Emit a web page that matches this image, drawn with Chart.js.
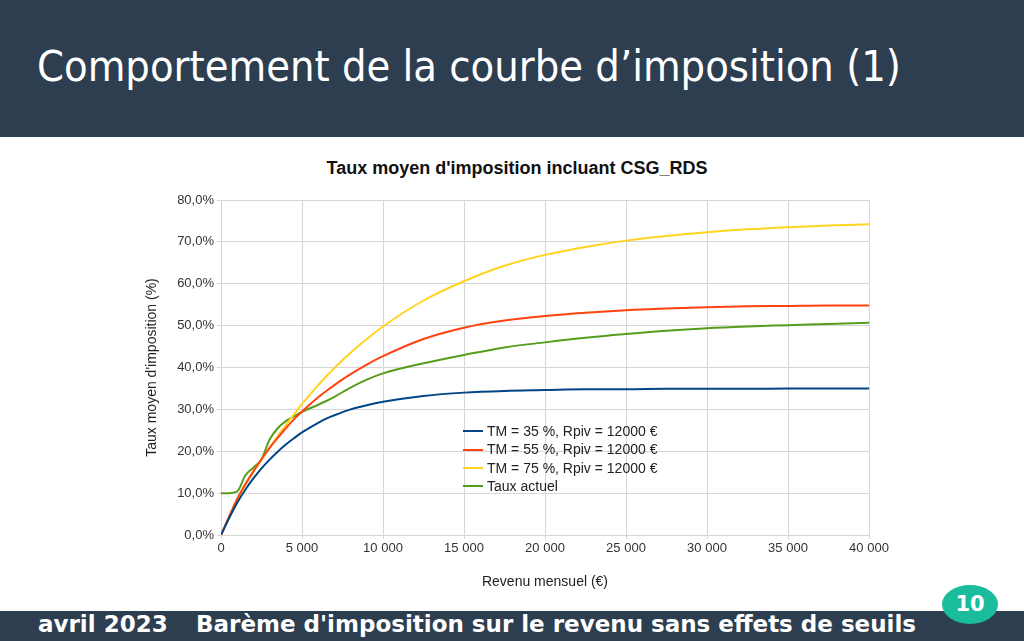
<!DOCTYPE html>
<html lang="fr">
<head>
<meta charset="utf-8">
<script src="https://cdn.jsdelivr.net/npm/chart.js@4/dist/chart.umd.min.js"></script>
<style>
  html, body { margin: 0; padding: 0; }
  body { width: 1024px; height: 641px; position: relative; overflow: hidden; background: #fff; font-family: "Liberation Sans", Arial, sans-serif; }
  .header { position: absolute; left: 0; top: 0; width: 1024px; height: 137px; background: #2d3e50; }
  .header h1 { position: absolute; left: 37px; top: 38px; margin: 0; color: #fff; font-family: "DejaVu Sans Condensed", "DejaVu Sans", sans-serif; font-weight: 200; font-size: 43px; line-height: 56px; white-space: nowrap; }
  .footer { position: absolute; left: 0; top: 611px; width: 1024px; height: 30px; background: #2d3e50; }
  .footer span { position: absolute; top: -2px; color: #fff; font-family: "DejaVu Sans", sans-serif; font-weight: bold; font-size: 23px; line-height: 30px; white-space: nowrap; }
  .badge { position: absolute; left: 942px; top: 585px; width: 56px; height: 39px; border-radius: 50%; background: #1abc9c; color: #fff; font-family: "DejaVu Sans", sans-serif; font-weight: bold; font-size: 21px; line-height: 39px; text-align: center; }
  #titre { position: absolute; left: 317px; width: 400px; top: 157px; text-align: center; font-weight: bold; font-size: 18px; line-height: 22px; color: #111; white-space: nowrap; }
  #wrap { position: absolute; left: 0; top: 140px; width: 1024px; height: 465px; }
  #legend { position: absolute; left: 463px; top: 422px; font-size: 14px; color: #222; }
  #legend div { height: 18.3px; line-height: 18px; white-space: nowrap; }
  #legend i { display: inline-block; width: 20px; height: 2px; vertical-align: middle; margin-right: 4px; position: relative; top: -1px; }
</style>
</head>
<body>
<div class="header"><h1>Comportement de la courbe d’imposition (1)</h1></div>
<div id="titre">Taux moyen d'imposition incluant CSG_RDS</div>
<div id="wrap"><canvas id="chart" width="1024" height="465"></canvas></div>
<div id="legend"></div>
<div class="footer">
  <span style="left:38px">avril 2023</span>
  <span style="left:196px">Barème d'imposition sur le revenu sans effets de seuils</span>
</div>
<div class="badge">10</div>
<script>
// revenu mensuel (€)
const revenus = [0, 500, 1000, 1500, 2000, 2500, 3000, 3500, 4000, 4500, 5000, 6000, 6500, 7000, 8000, 9000, 10000,
  12500, 15000, 17500, 20000, 22500, 25000, 27500, 30000, 32500, 35000, 37500, 40000];

// taux moyen (%)
const tm35 = [0, 4.0, 7.7, 10.8, 13.5, 15.9, 18.0, 19.9, 21.6, 23.1, 24.5, 26.8, 27.8, 28.6, 30.0, 31.0, 31.8,
  33.2, 34.0, 34.4, 34.6, 34.8, 34.8, 34.9, 34.9, 34.9, 35.0, 35.0, 35.0];
const tm55 = [0, 4.4, 8.6, 12.1, 15.2, 18.1, 20.8, 23.2, 25.5, 27.6, 29.5, 32.9, 34.4, 35.8, 38.4, 40.7, 42.7,
  46.8, 49.5, 51.2, 52.3, 53.1, 53.7, 54.1, 54.4, 54.6, 54.7, 54.8, 54.8];
const tm75 = [0, 4.3, 8.4, 12.0, 15.1, 18.0, 20.8, 23.6, 26.2, 28.8, 31.3, 35.8, 37.9, 39.9, 43.5, 46.8, 49.8,
  56.0, 60.6, 64.3, 66.9, 68.8, 70.3, 71.4, 72.3, 73.0, 73.5, 73.9, 74.2];
const actuel = [10, 10, 10.4, 14.2, 16.1, 18.1, 22.8, 25.5, 27.2, 28.3, 29.4, 31.1, 32.0, 33.0, 35.2, 37.1, 38.6,
  41.0, 43.0, 44.8, 46.0, 47.1, 48.0, 48.8, 49.4, 49.8, 50.1, 50.4, 50.7];

const labels = ['TM = 35 %, Rpiv = 12000 €', 'TM = 55 %, Rpiv = 12000 €', 'TM = 75 %, Rpiv = 12000 €', 'Taux actuel'];
const couleurs = ['#004586', '#ff420e', '#ffd320', '#579d1c'];
const series = [tm35, tm55, tm75, actuel];

const datasets = series.map((s, i) => ({
  label: labels[i],
  data: s.map((v, k) => ({ x: revenus[k], y: v })),
  borderColor: couleurs[i],
  backgroundColor: couleurs[i],
  borderWidth: 2,
  pointRadius: 0,
  cubicInterpolationMode: 'monotone'
}));

const fmtMilliers = v => v === 0 ? '0' : String(v).replace(/\B(?=(\d{3})+(?!\d))/g, ' ');
const fmtPct = v => v.toFixed(1).replace('.', ',') + '%';

new Chart(document.getElementById('chart'), {
  type: 'line',
  data: { datasets: datasets },
  options: {
    responsive: false,
    animation: false,
    layout: { padding: { left: 140, right: 155, top: 60, bottom: 10 } },
    plugins: {
      legend: { display: false },
      tooltip: { enabled: false },
      title: { display: false }
    },
    scales: {
      x: {
        type: 'linear',
        min: 0, max: 40000,
        ticks: { stepSize: 5000, color: '#333', font: { family: 'Liberation Sans', size: 13 }, padding: 2, maxRotation: 0, callback: fmtMilliers },
        grid: { color: '#d6d6d6', tickLength: 4 },
        border: { color: '#d6d6d6' },
        title: { display: true, text: 'Revenu mensuel (€)', color: '#222', font: { family: 'Liberation Sans', size: 14 }, padding: 4 },
        afterFit: s => { s.height = 60; }
      },
      y: {
        min: 0, max: 80,
        ticks: { stepSize: 10, color: '#333', font: { family: 'Liberation Sans', size: 13 }, padding: 3, callback: fmtPct },
        grid: { color: '#d6d6d6', tickLength: 4 },
        border: { color: '#d6d6d6' },
        title: { display: true, text: "Taux moyen d'imposition (%)", color: '#222', font: { family: 'Liberation Sans', size: 14 }, padding: 4 },
        afterFit: s => { s.width = 81; }
      }
    }
  }
});

// légende placée dans la zone du graphique
const legend = document.getElementById('legend');
labels.forEach((l, i) => {
  const row = document.createElement('div');
  row.innerHTML = `<i style="background:${couleurs[i]}"></i>${l}`;
  legend.appendChild(row);
});
</script>
</body>
</html>
